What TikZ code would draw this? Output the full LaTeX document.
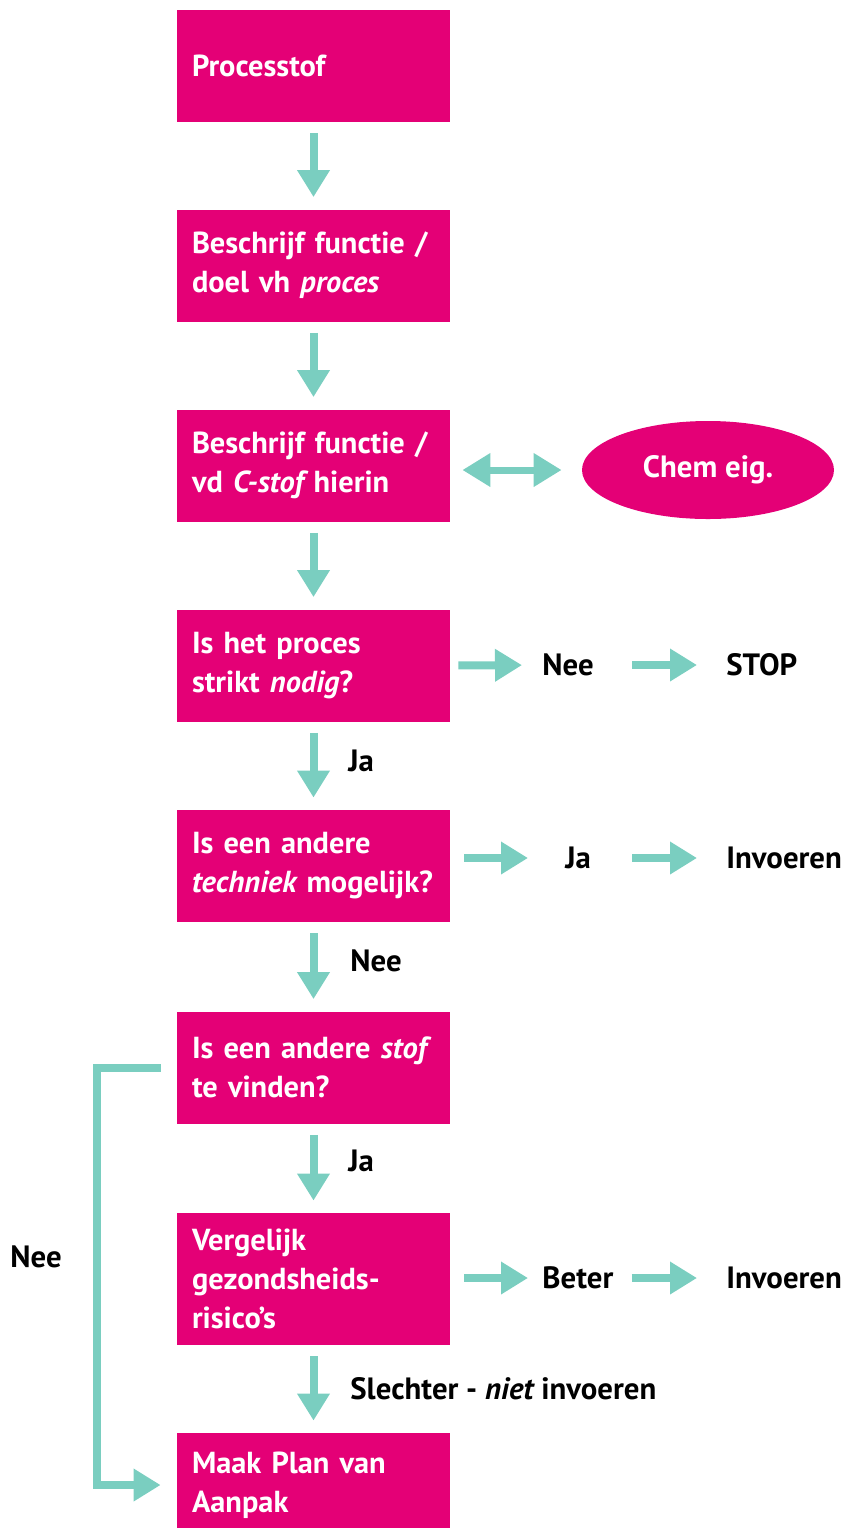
\documentclass[tikz,border=0pt]{standalone}
\usepackage{fontspec}
\setmainfont{PT Sans}
\usetikzlibrary{arrows.meta,shapes.geometric}
\definecolor{roze}{RGB}{228,0,118}
\definecolor{mint}{RGB}{122,206,192}
\begin{document}
\begin{tikzpicture}[x=0.5pt,y=-0.5pt]
    \tikzset{stap/.style = {rectangle, fill=roze, text=white, font=\bfseries\fontsize{15.2}{19.5}\selectfont, execute at begin node={\hyphenpenalty=10000}, align=left, text width=121.5pt, inner xsep=7.5pt, minimum height=56pt}}
    \tikzset{tekst/.style = {anchor=west, inner sep=0pt, font=\bfseries\fontsize{15.4}{19.5}\selectfont}}
    \tikzset{pijl/.style = {draw=mint, line width=4pt, -{Triangle[width=15.5pt,length=13.5pt]}}}
    \tikzset{duopijl/.style = {draw=mint, line width=3.5pt, {Triangle[width=16pt,length=14pt]}-{Triangle[width=16pt,length=14pt]}}}
    \useasboundingbox (0,0) rectangle (851,1528);
    % stappen in het midden
    \node[stap] (a) at (313.5,66) {Processtof};
    \node[stap] (b) at (313.5,265.5) {Beschrijf functie /\\doel vh {\itshape proces}};
    \node[stap] (c) at (313.5,465.5) {Beschrijf functie /\\vd {\itshape C-stof} hierin};
    \node[stap] (d) at (313.5,665.5) {Is het proces\\strikt {\itshape nodig}?};
    \node[stap] (e) at (313.5,866) {Is een andere\\{\itshape techniek} mogelijk?};
    \node[stap] (f) at (313.5,1067.5) {Is een andere {\itshape stof}\\te vinden?};
    \node[stap, minimum height=66pt] (g) at (313.5,1279) {Vergelijk\\gezondsheids-\\risico’s};
    \node[stap, minimum height=52pt] (h) at (313.5,1485) {Maak Plan van\\Aanpak};
    \node[ellipse, fill=roze, text=white, font=\bfseries\fontsize{15.4}{19.5}\selectfont, minimum width=126pt, minimum height=49pt] (eig) at (708,470) {Chem eig.};
    % teksten rechts en links
    \node[tekst] (nee1) at (542,665) {Nee};
    \node[tekst] (stop) at (726,665) {STOP};
    \node[tekst] (ja1) at (565,858) {Ja};
    \node[tekst] (inv1) at (726,858) {Invoeren};
    \node[tekst] (beter) at (542,1278) {Beter};
    \node[tekst] (inv2) at (726,1278) {Invoeren};
    \node[tekst] (ja2) at (348,761) {Ja};
    \node[tekst] (nee2) at (350,961) {Nee};
    \node[tekst] (ja3) at (348,1161) {Ja};
    \node[tekst] (slechter) at (350,1389) {Slechter - {\itshape niet} invoeren};
    \node[tekst] (nee3) at (10,1257) {Nee};
    % pijlen omlaag
    \draw[pijl, shorten <=5.5pt, shorten >=6pt] (a) -- (b);
    \draw[pijl, shorten <=5.5pt, shorten >=6pt] (b) -- (c);
    \draw[pijl, shorten <=5.5pt, shorten >=6pt] (c) -- (d);
    \draw[pijl, shorten <=5.5pt, shorten >=6pt] (d) -- (e);
    \draw[pijl, shorten <=5.5pt, shorten >=6pt] (e) -- (f);
    \draw[pijl, shorten <=5.5pt, shorten >=6pt] (f) -- (g);
    \draw[pijl, shorten <=5.5pt, shorten >=6pt] (g) -- (h);
    % pijlen naar rechts
    \draw[duopijl, shorten <=6pt, shorten >=10pt] (c.east |- eig.west) -- (eig.west);
    \draw[pijl, shorten <=4pt, shorten >=10pt] (d.east) -- (nee1.west);
    \draw[pijl, shorten <=19pt, shorten >=14.5pt] (nee1.east) -- (stop.west);
    \draw[pijl, shorten <=7pt, shorten >=18.5pt] (e.east |- ja1.west) -- (ja1.west);
    \draw[pijl, shorten <=20.5pt, shorten >=14.5pt] (ja1.east) -- (inv1.west);
    \draw[pijl, shorten <=7pt, shorten >=7pt] (g.east |- beter.west) -- (beter.west);
    \draw[pijl, shorten <=9pt, shorten >=14.5pt] (beter.east) -- (inv2.west);
    % terugloop links
    \draw[pijl] ([xshift=-8pt]f.west) -- ++(-64,0) |- ([xshift=-8pt]h.west);
\end{tikzpicture}
\end{document}
